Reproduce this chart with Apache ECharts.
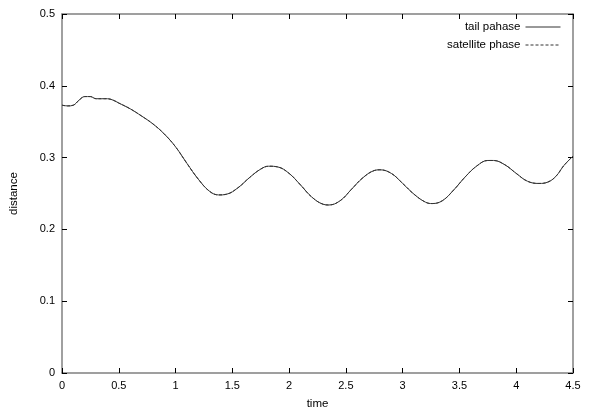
<!DOCTYPE html>
<html>
<head>
<meta charset="utf-8">
<script src="https://cdn.jsdelivr.net/npm/echarts@6/dist/echarts.min.js"></script>
<style>html,body{margin:0;padding:0;background:#fff}#c{width:593px;height:415px}</style>
</head>
<body>
<div id="c"></div>
<script>
const times = [0.00,0.05,0.10,0.15,0.20,0.25,0.30,0.35,0.40,0.45,0.50,0.60,0.70,0.80,0.90,1.00,1.10,1.20,1.30,1.38,1.45,1.55,1.65,1.75,1.82,1.90,2.00,2.10,2.20,2.30,2.35,2.45,2.55,2.65,2.75,2.80,2.90,3.00,3.10,3.20,3.26,3.35,3.45,3.55,3.65,3.75,3.80,3.90,4.00,4.10,4.20,4.28,4.35,4.42,4.50];
const tailPahase = [0.373,0.372,0.373,0.380,0.385,0.385,0.382,0.382,0.382,0.380,0.376,0.368,0.358,0.347,0.333,0.315,0.292,0.270,0.253,0.248,0.249,0.258,0.272,0.284,0.288,0.287,0.278,0.262,0.245,0.235,0.234,0.240,0.256,0.272,0.282,0.283,0.278,0.264,0.249,0.238,0.236,0.240,0.255,0.273,0.288,0.296,0.296,0.290,0.278,0.267,0.264,0.266,0.274,0.289,0.302];
const satellitePhase = [0.373,0.372,0.373,0.380,0.385,0.385,0.382,0.382,0.382,0.380,0.376,0.368,0.358,0.347,0.333,0.315,0.292,0.270,0.253,0.248,0.249,0.258,0.272,0.284,0.288,0.287,0.278,0.262,0.245,0.235,0.234,0.240,0.256,0.272,0.282,0.283,0.278,0.264,0.249,0.238,0.236,0.240,0.255,0.273,0.288,0.296,0.296,0.290,0.278,0.267,0.264,0.266,0.274,0.289,0.302];
const xTicks = [0,0.5,1,1.5,2,2.5,3,3.5,4,4.5];
const yTicks = [0,0.1,0.2,0.3,0.4,0.5];

const font = 'Liberation Sans, Arial, sans-serif';
const axisLine = {show:true, onZero:false, lineStyle:{color:'#808080', width:1.5}};
const tick = {show:true, inside:true, length:5, lineStyle:{color:'#000', width:1}};
const chart = echarts.init(document.getElementById('c'));
chart.setOption({
  animation:false,
  backgroundColor:'#fff',
  grid:{left:59, right:20, top:14, bottom:34, containLabel:false},
  legend:{
    orient:'vertical', right:32, top:21, padding:0, align:'right', itemGap:6,
    itemWidth:35, itemHeight:12,
    itemStyle:{opacity:0},
    lineStyle:{width:1},
    textStyle:{fontFamily:font, fontSize:11.5, color:'#000'},
    data:['tail pahase','satellite phase']
  },
  xAxis:[{
    type:'value', min:0, max:4.5, interval:0.5,
    name:'time', nameLocation:'middle', nameGap:25,
    nameTextStyle:{fontFamily:font, fontSize:11.5, color:'#000'},
    axisLine:axisLine, axisTick:tick,
    axisLabel:{fontFamily:font, fontSize:11, color:'#000', margin:7, formatter:v=>String(v)},
    splitLine:{show:false}
  },{
    type:'value', min:0, max:4.5, interval:0.5, position:'top',
    axisLine:axisLine, axisTick:tick, axisLabel:{show:false}, splitLine:{show:false}
  }],
  yAxis:[{
    type:'value', min:0, max:0.5, interval:0.1,
    name:'distance', nameLocation:'middle', nameGap:42, nameRotate:90,
    nameTextStyle:{fontFamily:font, fontSize:11.5, color:'#000'},
    axisLine:axisLine, axisTick:tick,
    axisLabel:{fontFamily:font, fontSize:11, color:'#000', margin:7, formatter:v=>String(Math.round(v*10)/10)},
    splitLine:{show:false}
  },{
    type:'value', min:0, max:0.5, interval:0.1, position:'right',
    axisLine:axisLine, axisTick:tick, axisLabel:{show:false}, splitLine:{show:false}
  }],
  series:[{
    name:'tail pahase', type:'line', smooth:0.4, symbol:'none',
    data: times.map((t,i)=>[t, tailPahase[i]]),
    lineStyle:{color:'#333', width:1, type:'solid'},
    itemStyle:{color:'#333'}
  },{
    name:'satellite phase', type:'line', smooth:0.4, symbol:'none',
    data: times.map((t,i)=>[t, satellitePhase[i]]),
    lineStyle:{color:'#333', width:1, type:[3,2]},
    itemStyle:{color:'#333'}
  }]
});
</script>
</body>
</html>
